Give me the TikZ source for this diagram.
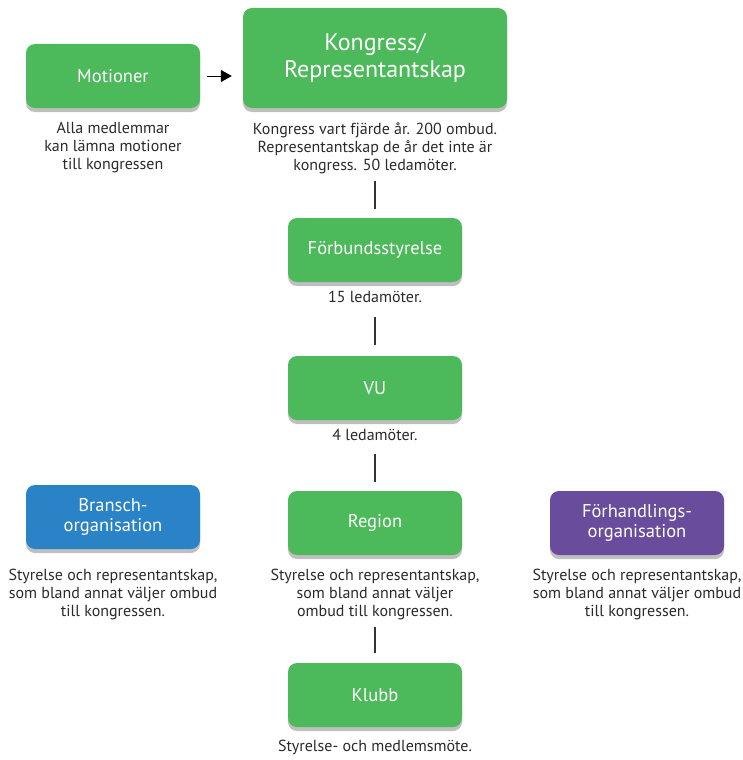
\documentclass[tikz,border=0pt]{standalone}
\usepackage{fontspec}
\setmainfont{PT Sans}
\usetikzlibrary{shadows, arrows.meta, positioning}
\definecolor{boxgreen}{HTML}{4CB95A}
\definecolor{boxblue}{HTML}{2A83C7}
\definecolor{boxpurple}{HTML}{6A4C9D}
\definecolor{textgray}{HTML}{2A2A2A}
\definecolor{linegray}{HTML}{333333}
\tikzstyle{box} = [rectangle, rounded corners=9pt, minimum width=174pt, minimum height=64pt, text centered, align=center, text=white, font=\fontsize{18.5}{20}\selectfont, fill=boxgreen, drop shadow={shadow xshift=0pt, shadow yshift=-4pt, opacity=0.25, fill=black}]
\tikzstyle{bigbox} = [box, minimum width=264pt, minimum height=100pt, font=\fontsize{24}{27}\selectfont]
\tikzstyle{note} = [align=center, inner sep=0pt, text=textgray, font=\fontsize{16}{18}\selectfont]
\tikzstyle{link} = [line width=1.2pt, draw=linegray]
\tikzstyle{arrow} = [line width=1pt, draw=black, -{Triangle[length=11pt,width=12pt]}]

\begin{document}
\begin{tikzpicture}[x=1pt, y=1pt]
				\useasboundingbox (0,0) rectangle (743,-760);
				\node (kong) [bigbox] at (375,-58) {Kongress/\\Representantskap};
				\node (mot) [box] at (113,-76) {Motioner};
				\node (fs) [box] at (375,-250) {Förbundsstyrelse};
				\node (vu) [box] at (375,-388) {VU};
				\node (region) [box] at (375,-523) {Region};
				\node (klubb) [box] at (375,-695) {Klubb};
				\node (bransch) [box, fill=boxblue] at (113,-517) {Bransch-\\organisation};
				\node (forh) [box, fill=boxpurple] at (637,-523) {Förhandlings-\\organisation};

				\node (mottxt) [note, below=14pt of mot] {Alla medlemmar\\kan lämna motioner\\till kongressen};
				\node (kongtxt) [note, below=14pt of kong] {Kongress vart fjärde år. 200 ombud.\\Representantskap de år det inte är\\kongress. 50 ledamöter.};
				\node (fstxt) [note, below=9pt of fs] {15 ledamöter.};
				\node (vutxt) [note, below=9pt of vu] {4 ledamöter.};
				\node (regtxt) [note, below=14pt of region] {Styrelse och representantskap,\\som bland annat väljer\\ombud till kongressen.};
				\node (klubbtxt) [note, below=13pt of klubb] {Styrelse- och medlemsmöte.};
				\node (branschtxt) [note, below=20pt of bransch] {Styrelse och representantskap,\\som bland annat väljer ombud\\till kongressen.};
				\node (forhtxt) [note, below=14pt of forh] {Styrelse och representantskap,\\som bland annat väljer ombud\\till kongressen.};

				\draw [arrow, shorten <=7pt, shorten >=11pt] (mot) -- (kong.west |- mot);
				\draw [link, shorten <=7pt, shorten >=9pt] (kongtxt) -- (fs);
				\draw [link, shorten <=14pt, shorten >=11pt] (fstxt) -- (vu);
				\draw [link, shorten <=13pt, shorten >=9pt] (vutxt) -- (region);
				\draw [link, shorten <=7pt, shorten >=10pt] (regtxt) -- (klubb);
\end{tikzpicture}
\end{document}
